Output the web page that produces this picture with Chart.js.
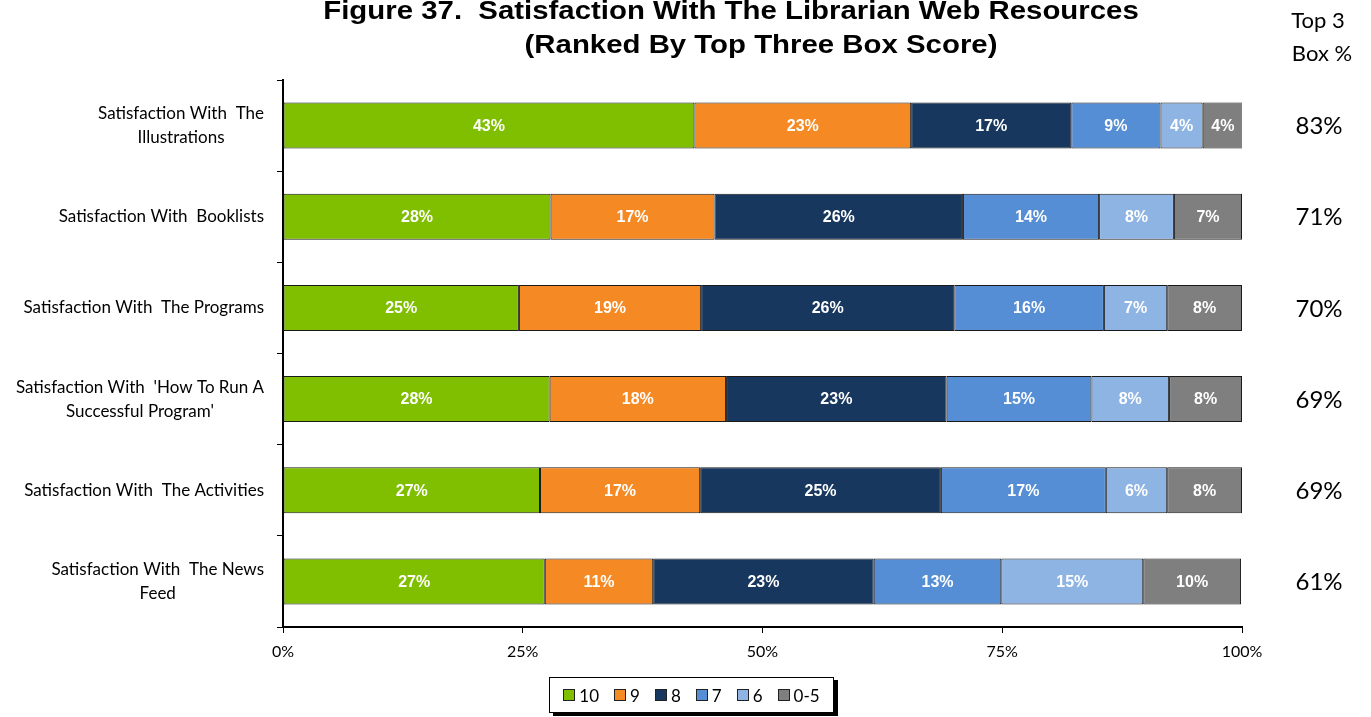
<!DOCTYPE html>
<html>
<head>
<meta charset="utf-8">
<script src="https://cdn.jsdelivr.net/npm/chart.js@4/dist/chart.umd.min.js"></script>
<style>
  html, body { margin: 0; padding: 0; background: #fff; }
  #wrap { position: relative; width: 1371px; height: 717px; }
  #legend {
    position: absolute; left: 549px; top: 677px; width: 283px; height: 34px;
    border: 1px solid #000; box-shadow: 4px 3px 0 #000; background: #fff;
    display: flex; align-items: center; justify-content: center; gap: 15px;
    font-family: Lato, "Open Sans", sans-serif; font-size: 17px; color: #000;
  }
  #legend span.item { display: flex; align-items: center; gap: 4px; }
  #legend span.box { width: 10px; height: 10px; border: 1px solid #222; display: inline-block; }
</style>
</head>
<body>
<div id="wrap">
  <canvas id="chart" width="1371" height="717"></canvas>
  <div id="legend"></div>
</div>
<script>
// categories, top to bottom
let categories = [
    ['Satisfaction With  The', 'Illustrations'],
    ['Satisfaction With  Booklists'],
    ['Satisfaction With  The Programs'],
    ['Satisfaction With  \'How To Run A', 'Successful Program\''],
    ['Satisfaction With  The Activities'],
    ['Satisfaction With  The News', 'Feed']
];

let seriesNames = ['10', '9', '8', '7', '6', '0-5'];
let seriesColors = ['#7fbf00', '#f58a24', '#17375e', '#558ed5', '#8eb4e3', '#7f7f7f'];

// percent values per rating
let s10 = [42.9, 27.9, 24.6, 27.8, 26.8, 27.3];
let s9  = [22.6, 17.1, 19.0, 18.4, 16.7, 11.3];
let s8  = [16.7, 25.9, 26.4, 23.0, 25.1, 23.0];
let s7  = [9.3, 14.2, 15.6, 15.1, 17.2, 13.3];
let s6  = [4.4, 7.8, 6.6, 8.1, 6.4, 14.8];
let s05 = [4.2, 7.1, 7.8, 7.6, 7.8, 10.2];

let top3 = [83, 71, 70, 69, 69, 61];

let xTicks = [0, 25, 50, 75, 100];

let titleLines = ['Figure 37.  Satisfaction With The Librarian Web Resources', '(Ranked By Top Three Box Score)'];

let allSeries = [s10, s9, s8, s7, s6, s05];
let datasets = allSeries.map(function (d, i) {
    return {
        label: seriesNames[i],
        data: d,
        backgroundColor: seriesColors[i],
        borderColor: '#1a1a1a',
        borderWidth: 1,
        borderSkipped: false,
        barPercentage: 0.9,
        categoryPercentage: 0.56
    };
});

let labelFont = 'Lato, "Open Sans", sans-serif';

// draws bar labels, category labels, top3 column and title
let extras = {
    id: 'extras',
    afterDatasetsDraw: function (chart) {
        let ctx = chart.ctx;
        let yScale = chart.scales.y;
        ctx.save();

        // values inside segments
        ctx.font = 'bold 16px "Liberation Sans", Arial, sans-serif';
        ctx.fillStyle = '#fff';
        ctx.textAlign = 'center';
        ctx.textBaseline = 'middle';
        chart.data.datasets.forEach(function (ds, di) {
            chart.getDatasetMeta(di).data.forEach(function (bar, i) {
                let cx = (bar.x + bar.base) / 2;
                ctx.fillText(Math.round(ds.data[i]) + '%', cx, bar.y + 1);
            });
        });

        // category labels, lines centred on each other
        ctx.font = '17px ' + labelFont;
        ctx.fillStyle = '#000';
        categories.forEach(function (lines, i) {
            let y = yScale.getPixelForValue(i);
            let w = 0;
            lines.forEach(function (l) { w = Math.max(w, ctx.measureText(l).width); });
            let cx = 264 - w / 2;
            let lh = 24;
            let y0 = y - (lines.length - 1) * lh / 2;
            lines.forEach(function (l, k) {
                ctx.fillText(l, cx, y0 + k * lh);
            });
        });

        // top 3 box column
        ctx.font = '24px ' + labelFont;
        top3.forEach(function (v, i) {
            ctx.fillText(v + '%', 1319, yScale.getPixelForValue(i) + 1);
        });
        ctx.font = '22px ' + labelFont;
        ctx.fillText('Top 3', 1318, 21);
        ctx.fillText('Box %', 1322, 54);

        // title, slightly stretched like the original
        ctx.font = 'bold 26px "Liberation Sans", Arial, sans-serif';
        let centres = [731, 761];
        let ys = [12, 46];
        titleLines.forEach(function (t, k) {
            ctx.save();
            ctx.translate(centres[k], ys[k]);
            ctx.scale(1.13, 1);
            ctx.fillText(t, 0, 0);
            ctx.restore();
        });
        ctx.restore();
    }
};

let c = document.getElementById('chart').getContext('2d');
let chart = new Chart(c, {
    type: 'bar',
    data: {
        labels: categories,
        datasets: datasets
    },
    options: {
        indexAxis: 'y',
        responsive: false,
        animation: false,
        layout: { padding: { top: 80, right: 129, bottom: 51, left: 0 } },
        plugins: {
            legend: { display: false },
            title: { display: false },
            tooltip: { enabled: false }
        },
        scales: {
            x: {
                stacked: true,
                min: 0,
                max: 100,
                afterBuildTicks: function (axis) {
                    axis.ticks = xTicks.map(function (v) { return { value: v }; });
                },
                ticks: {
                    callback: function (v) { return v + '%'; },
                    font: { family: labelFont, size: 16 },
                    color: '#000',
                    padding: 9,
                    maxRotation: 0
                },
                grid: { drawOnChartArea: false, drawTicks: true, tickLength: 6, color: '#000', lineWidth: 1 },
                border: { display: true, color: '#000', width: 2 },
                afterFit: function (axis) { axis.height = 39; }
            },
            y: {
                stacked: true,
                ticks: { display: false },
                grid: { drawOnChartArea: false, drawTicks: true, tickLength: 6, offset: true, color: '#000', lineWidth: 1 },
                border: { display: true, color: '#000', width: 2 },
                afterFit: function (axis) { axis.width = 283; }
            }
        }
    },
    plugins: [extras]
});

// legend
let leg = document.getElementById('legend');
seriesNames.forEach(function (n, i) {
    let item = document.createElement('span');
    item.className = 'item';
    let box = document.createElement('span');
    box.className = 'box';
    box.style.background = seriesColors[i];
    item.appendChild(box);
    item.appendChild(document.createTextNode(n));
    leg.appendChild(item);
});
</script>
</body>
</html>
